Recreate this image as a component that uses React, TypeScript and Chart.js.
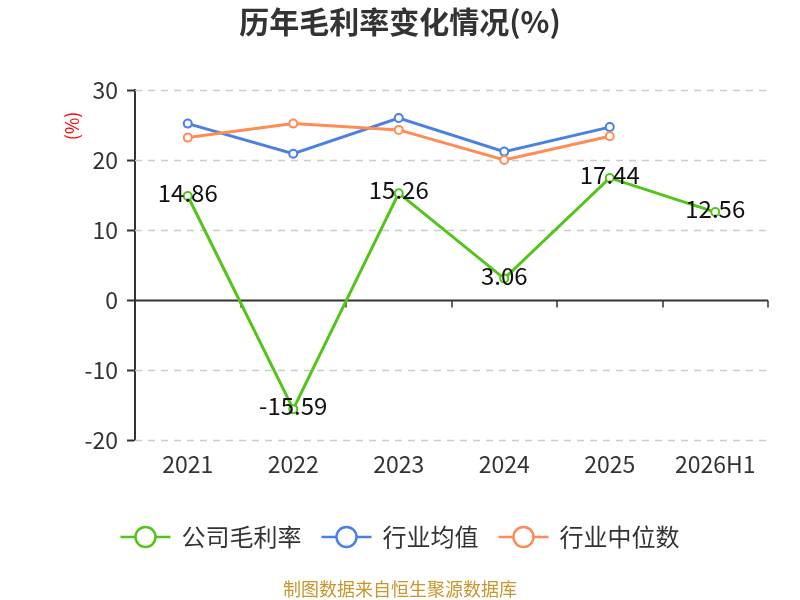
import React, { useEffect, useRef } from "react";
import { Chart, registerables } from "chart.js";

Chart.register(...registerables);

const categories = ["2021", "2022", "2023", "2024", "2025", "2026H1"];
const companyMargin = [14.86, -15.59, 15.26, 3.06, 17.44, 12.56];
const industryAvg = [25.2, 20.9, 26.0, 21.2, 24.7, null];
const industryMedian = [23.2, 25.2, 24.3, 20.0, 23.4, null];
const yMin = -20;
const yMax = 30;
const yStep = 10;
const seriesNames = ["公司毛利率", "行业均值", "行业中位数"];
const seriesColors = ["#52c41a", "#4a7fe3", "#ff8c56"];
const titleText = "历年毛利率变化情况(%)";
const yAxisTitle = "(%)";
const footerText = "制图数据来自恒生聚源数据库";

const FONT = "'Noto Sans CJK SC', 'Noto Sans', sans-serif";

const overlayPlugin = {
  id: "overlay",
  beforeDatasetsDraw(chart: any) {
    const { ctx, chartArea } = chart;
    const y = chart.scales.y;
    ctx.save();
    for (let v = yMin; v <= yMax; v += yStep) {
      const py = Math.round(y.getPixelForValue(v)) + 0.5;
      ctx.beginPath();
      if (v === 0) {
        ctx.setLineDash([]);
        ctx.strokeStyle = "#333333";
        ctx.lineWidth = 2;
        ctx.moveTo(chartArea.left, py);
        ctx.lineTo(chartArea.right, py);
        ctx.stroke();
        const n = categories.length;
        ctx.lineWidth = 1.5;
        for (let i = 1; i <= n; i++) {
          const px = chartArea.left + (i * (chartArea.right - chartArea.left)) / n;
          ctx.beginPath();
          ctx.moveTo(Math.round(px), py);
          ctx.lineTo(Math.round(px), py + 7);
          ctx.stroke();
        }
      } else {
        ctx.setLineDash([7, 6]);
        ctx.strokeStyle = "#cccccc";
        ctx.lineWidth = 1.5;
        ctx.moveTo(chartArea.left, py);
        ctx.lineTo(chartArea.right, py);
        ctx.stroke();
      }
    }
    ctx.restore();
  },
  afterDatasetsDraw(chart: any) {
    const { ctx } = chart;
    const meta = chart.getDatasetMeta(0);
    ctx.save();
    ctx.font = `24px ${FONT}`;
    ctx.fillStyle = "#111111";
    ctx.textAlign = "center";
    ctx.textBaseline = "middle";
    meta.data.forEach((pt: any, i: number) => {
      ctx.fillText(companyMargin[i].toFixed(2), pt.x, pt.y - 3);
    });
    ctx.restore();
  },
  afterDraw(chart: any) {
    const { ctx } = chart;
    ctx.save();
    ctx.font = `bold 30px ${FONT}`;
    ctx.fillStyle = "#333333";
    ctx.textAlign = "center";
    ctx.textBaseline = "middle";
    ctx.fillText(titleText, 400, 22);
    ctx.save();
    ctx.translate(72, 126);
    ctx.rotate(-Math.PI / 2);
    ctx.font = `18px ${FONT}`;
    ctx.fillStyle = "#ff0000";
    ctx.fillText(yAxisTitle, 0, 0);
    ctx.restore();
    ctx.font = `24px ${FONT}`;
    const symW = 50;
    const gap1 = 11;
    const gap2 = 20;
    const widths = seriesNames.map((s) => ctx.measureText(s).width);
    const total =
      widths.reduce((a, b) => a + b, 0) + seriesNames.length * (symW + gap1) + (seriesNames.length - 1) * gap2;
    let x = 400 - total / 2;
    const ly = 537;
    seriesNames.forEach((name, i) => {
      ctx.strokeStyle = seriesColors[i];
      ctx.lineWidth = 2.5;
      ctx.beginPath();
      ctx.moveTo(x, ly);
      ctx.lineTo(x + symW, ly);
      ctx.stroke();
      ctx.beginPath();
      ctx.arc(x + symW / 2, ly, 10, 0, Math.PI * 2);
      ctx.fillStyle = "#ffffff";
      ctx.fill();
      ctx.stroke();
      x += symW + gap1;
      ctx.fillStyle = "#333333";
      ctx.textAlign = "left";
      ctx.fillText(name, x, ly);
      x += widths[i] + gap2;
    });
    ctx.font = `18px ${FONT}`;
    ctx.fillStyle = "#c9962b";
    ctx.textAlign = "center";
    ctx.fillText(footerText, 400, 589);
    ctx.restore();
  },
};

export default function App() {
  const ref = useRef<HTMLCanvasElement>(null);
  useEffect(() => {
    if (!ref.current) return;
    const mk = (i: number, data: (number | null)[], order: number) => ({
      label: seriesNames[i],
      data,
      borderColor: seriesColors[i],
      backgroundColor: "#ffffff",
      borderWidth: 3,
      pointRadius: 4,
      pointBorderWidth: 2,
      pointBackgroundColor: "#ffffff",
      pointBorderColor: seriesColors[i],
      tension: 0,
      order,
    });
    const chart = new Chart(ref.current, {
      type: "line",
      data: {
        labels: categories,
        datasets: [mk(0, companyMargin, 0), mk(1, industryAvg, 2), mk(2, industryMedian, 1)],
      },
      options: {
        animation: false,
        responsive: false,
        devicePixelRatio: 1,
        layout: { padding: { top: 90, right: 32, left: 0, bottom: 0 } },
        plugins: {
          legend: { display: false },
          title: { display: false },
          tooltip: { enabled: false },
        },
        scales: {
          x: {
            offset: true,
            grid: { display: false },
            border: { display: false },
            ticks: { font: { size: 23, family: FONT }, color: "#333333", padding: 2 },
            afterFit: (s: any) => {
              s.height = 160;
            },
          },
          y: {
            min: yMin,
            max: yMax,
            ticks: { stepSize: yStep, font: { size: 23, family: FONT }, color: "#333333", padding: 9 },
            grid: { drawOnChartArea: false, drawTicks: true, tickLength: 8, tickColor: "#333333", tickWidth: 2 },
            border: { display: true, color: "#333333", width: 2 },
            afterFit: (s: any) => {
              s.width = 135;
            },
          },
        },
      },
      plugins: [overlayPlugin],
    });
    return () => chart.destroy();
  }, []);
  return (
    <div style={{ position: "absolute", left: 0, top: 0, width: 800, height: 600, background: "#fff" }}>
      <canvas ref={ref} width={800} height={600} style={{ width: 800, height: 600 }} />
    </div>
  );
}
